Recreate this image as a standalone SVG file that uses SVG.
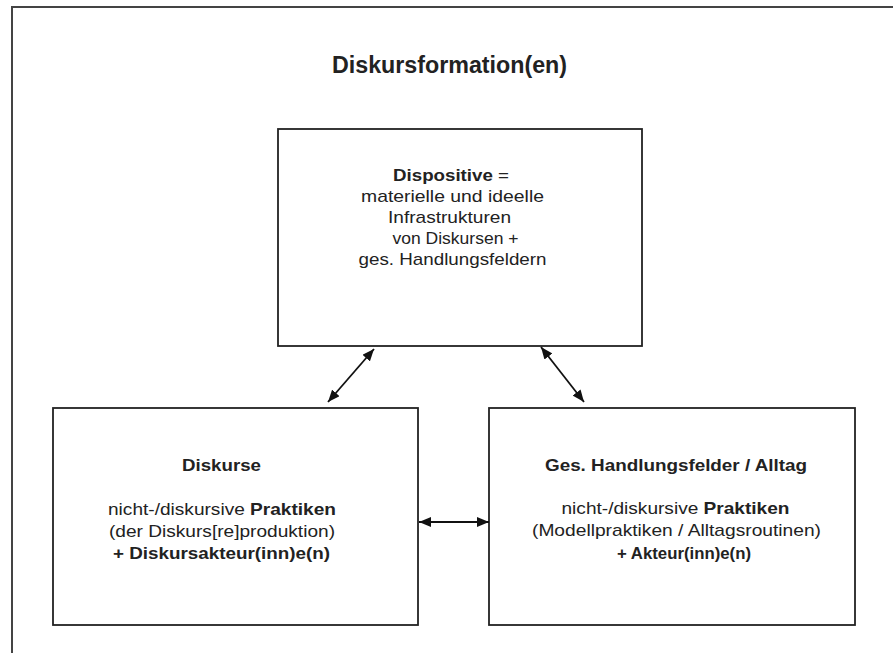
<svg xmlns="http://www.w3.org/2000/svg" width="893" height="653" viewBox="0 0 893 653">
<defs>
<marker id="ah" viewBox="0 0 12 10" refX="12" refY="5" markerWidth="12" markerHeight="10" markerUnits="userSpaceOnUse" orient="auto-start-reverse">
<path d="M0,0 L12,5 L0,10 z" fill="#111"/>
</marker>
<style>
text{font-family:"Liberation Sans",Arial,sans-serif;fill:#222;text-anchor:middle}
.b{font-weight:bold}
.t{font-size:17px}
.box{fill:#fff;stroke:#222;stroke-width:1.8}
.c{stroke:#111;stroke-width:1.8;fill:none;marker-start:url(#ah);marker-end:url(#ah)}
</style>
</defs>
<rect width="893" height="653" fill="#fff"/>
<path d="M12,653 L12,7 L893,7" fill="none" stroke="#444" stroke-width="2"/>
<text id="title" class="b" x="449.5" y="73" font-size="23" textLength="235" lengthAdjust="spacingAndGlyphs">Diskursformation(en)</text>
<g id="dispositive">
<rect class="box" x="278" y="129" width="364" height="217"/>
<text class="t" x="451" y="181" textLength="116" lengthAdjust="spacingAndGlyphs"><tspan class="b">Dispositive</tspan> =</text>
<text class="t" x="452.5" y="202" textLength="183" lengthAdjust="spacingAndGlyphs">materielle und ideelle</text>
<text class="t" x="449.5" y="223" textLength="123" lengthAdjust="spacingAndGlyphs">Infrastrukturen</text>
<text class="t" x="455.5" y="244" textLength="126" lengthAdjust="spacingAndGlyphs">von Diskursen +</text>
<text class="t" x="452.5" y="265" textLength="188" lengthAdjust="spacingAndGlyphs">ges. Handlungsfeldern</text>
</g>
<g id="diskurse">
<rect class="box" x="53" y="408" width="365" height="217"/>
<text class="t b" x="221.5" y="471" textLength="79" lengthAdjust="spacingAndGlyphs">Diskurse</text>
<text class="t" x="222" y="515" textLength="228" lengthAdjust="spacingAndGlyphs">nicht-/diskursive <tspan class="b">Praktiken</tspan></text>
<text class="t" x="222" y="537" textLength="226" lengthAdjust="spacingAndGlyphs">(der Diskurs[re]produktion)</text>
<text class="t b" x="221.5" y="559" textLength="217" lengthAdjust="spacingAndGlyphs">+ Diskursakteur(inn)e(n)</text>
</g>
<g id="handlungsfelder">
<rect class="box" x="489" y="408" width="366" height="217"/>
<text class="t b" x="676" y="471" textLength="262" lengthAdjust="spacingAndGlyphs">Ges. Handlungsfelder / Alltag</text>
<text class="t" x="675.5" y="514" textLength="228" lengthAdjust="spacingAndGlyphs">nicht-/diskursive <tspan class="b">Praktiken</tspan></text>
<text class="t" x="676.5" y="536" textLength="289" lengthAdjust="spacingAndGlyphs">(Modellpraktiken / Alltagsroutinen)</text>
<text class="t b" x="684" y="559" textLength="134" lengthAdjust="spacingAndGlyphs">+ Akteur(inn)e(n)</text>
</g>
<g id="connectors">
<line class="c" x1="328" y1="402" x2="374" y2="349"/>
<line class="c" x1="541" y1="347" x2="584" y2="402"/>
<line class="c" x1="419" y1="522" x2="489" y2="522"/>
</g>
</svg>
